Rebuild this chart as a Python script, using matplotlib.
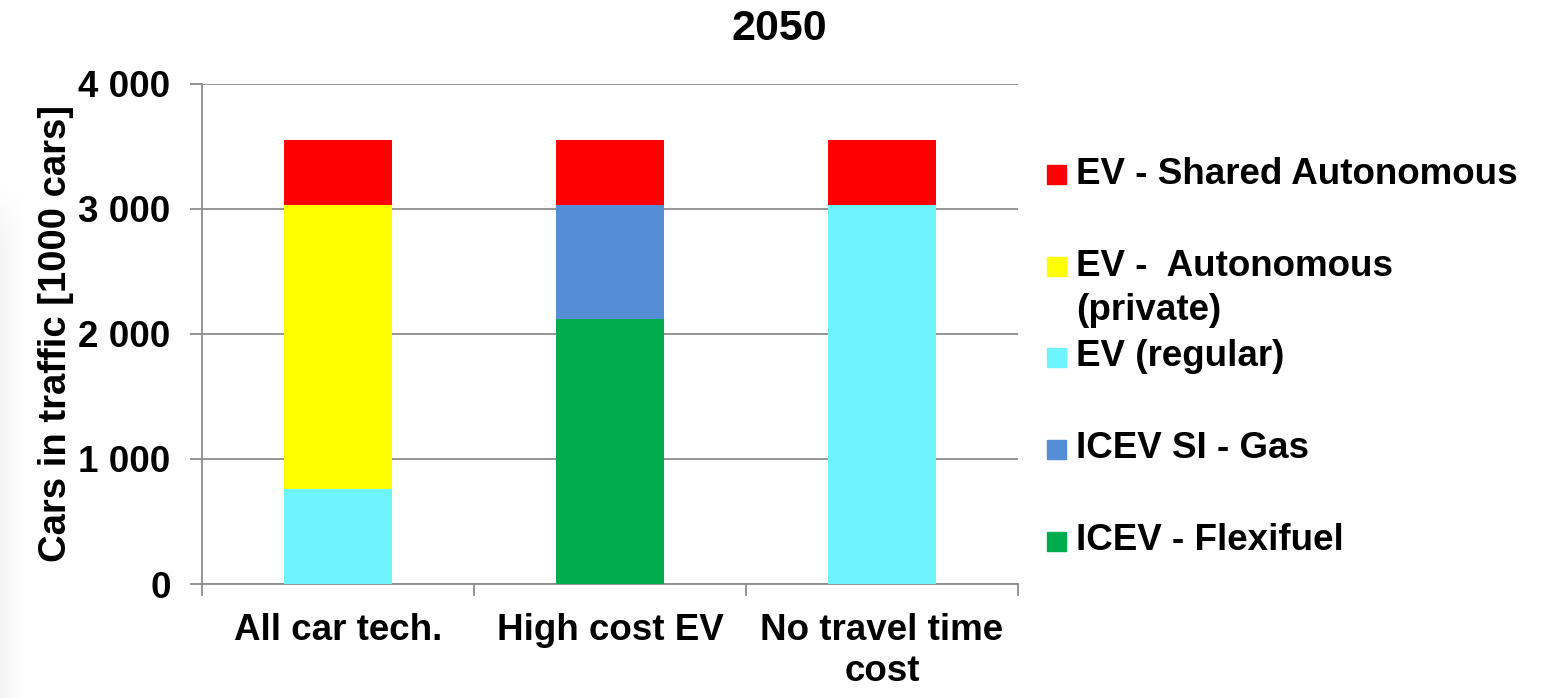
import numpy as np
import matplotlib
matplotlib.use('Agg')
import matplotlib.pyplot as plt
from matplotlib.patches import Rectangle

plt.rcParams['font.family'] = ['Liberation Sans', 'DejaVu Sans']
plt.rcParams['font.weight'] = 'bold'
plt.rcParams['axes.labelweight'] = 'bold'

# scenarios and stacked fleet composition, 1000 cars in traffic in 2050
scenarios = ['All car tech.', 'High cost EV', 'No travel time\ncost']
flexifuel = [0, 2116, 0]
gas = [0, 914, 0]
ev_regular = [760, 0, 3030]
ev_autonomous = [2270, 0, 0]
ev_shared = [517, 517, 517]

series = [flexifuel, gas, ev_regular, ev_autonomous, ev_shared]
colors = ['#00AC4E', '#558ED5', '#6EF4FF', '#FFFF00', '#FF0000']
names = ['ICEV - Flexifuel', 'ICEV SI - Gas', 'EV (regular)',
         'EV -  Autonomous\n(private)', 'EV - Shared Autonomous']

W, H = 1545, 698
fig = plt.figure(figsize=(W / 100, H / 100), dpi=100)

# faint slide background at the left edge, fading out to the right and upwards
bg = fig.add_axes([0, 0, 26 / W, 520 / H])
fade_x = np.linspace(0.045, 0.0, 64).reshape(1, -1)
fade_y = np.clip(np.linspace(0.0, 1.0, 64) * 8, 0, 1).reshape(-1, 1)
bg.imshow(1 - fade_x * fade_y, cmap='gray', vmin=0, vmax=1, aspect='auto',
          extent=[0, 1, 0, 1])
bg.axis('off')

ax = fig.add_axes([202 / W, 1 - 584 / H, 816 / W, 500.4 / H])

x = np.arange(len(scenarios))
bottom = np.zeros(len(scenarios))
for vals, c in zip(series, colors):
    ax.bar(x, vals, width=0.4, bottom=bottom, color=c, linewidth=0, zorder=3)
    bottom += np.array(vals)

ax.set_xlim(-0.5, len(scenarios) - 0.5)
ax.set_ylim(0, 4000)
ax.set_yticks([0, 1000, 2000, 3000, 4000])
ax.set_yticklabels(['0', '1 000', '2 000', '3 000', '4 000'])
ax.yaxis.grid(True, color='#8c8c8c', linewidth=1.3, zorder=0)
ax.set_axisbelow(True)

ax.set_xticks(x)
ax.set_xticklabels(scenarios, linespacing=1.2)
ax.set_xticks(np.arange(len(scenarios) + 1) - 0.5, minor=True)
ax.tick_params(axis='x', which='major', length=0, pad=21, labelsize=26.5)
ax.tick_params(axis='x', which='minor', length=8.6, width=1.3, color='#8c8c8c')
ax.tick_params(axis='y', length=8.6, width=1.3, color='#8c8c8c', pad=14, labelsize=26.5)

for s in ['top', 'right']:
    ax.spines[s].set_visible(False)
for s in ['left', 'bottom']:
    ax.spines[s].set_color('#8c8c8c')
    ax.spines[s].set_linewidth(1.3)

ax.set_ylabel('Cars in traffic [1000 cars]', fontsize=27.5, labelpad=3)

fig.text(779 / W, 1 - 29 / H, '2050', ha='center', va='center', fontsize=31)

# legend, top entry first
rows = [174, 267, 357, 449, 541]
for (name, c), yy in zip(list(zip(names, colors))[::-1], rows):
    fig.add_artist(Rectangle((1047 / W, 1 - (yy + 9.5) / H), 19 / W, 19 / H,
                             transform=fig.transFigure, color=c))
    for j, line in enumerate(name.split('\n')):
        fig.text(1076 / W, 1 - (yy + 43 * j) / H, line, ha='left',
                 va='center', fontsize=26.5)

fig.savefig('out.png', dpi=100)
